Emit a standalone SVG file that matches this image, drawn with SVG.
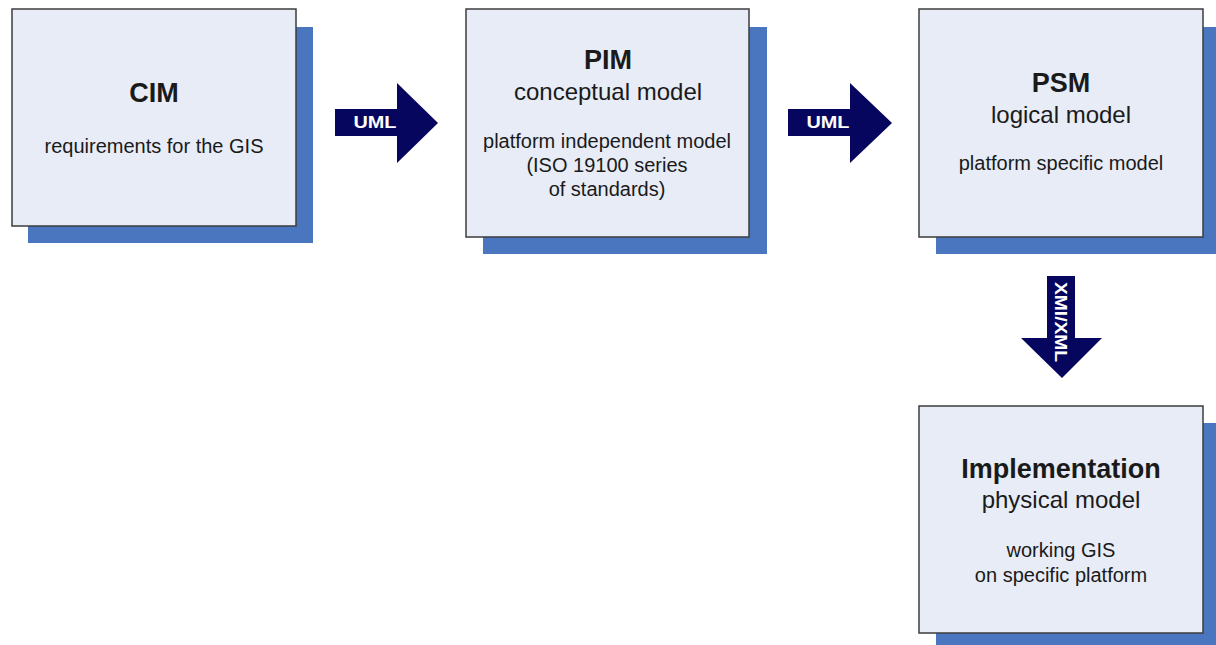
<svg xmlns="http://www.w3.org/2000/svg" width="1216" height="645" viewBox="0 0 1216 645">
<style>
.shadow{fill:#4A76C0}
.box{fill:#E7ECF6;stroke:#3C3C3C;stroke-width:1.5}
.t{font-family:"Liberation Sans",Arial,sans-serif;fill:#1A1A1A;text-anchor:middle}
.b{font-weight:bold;font-size:27px}
.m{font-size:24px}
.s{font-size:20px}
.arrow{fill:#06065E}
.al{font-family:"Liberation Sans",Arial,sans-serif;font-weight:bold;font-size:17px;fill:#FFFFFF;text-anchor:middle}
</style>
<rect width="1216" height="645" fill="#FFFFFF"/>
<g id="cim">
<rect class="shadow" x="28" y="27" width="285" height="216"/>
<rect class="box" x="12" y="9" width="284" height="217"/>
<text class="t b" x="154" y="102">CIM</text>
<text class="t s" x="154" y="153">requirements for the GIS</text>
</g>
<g id="pim">
<rect class="shadow" x="483" y="27" width="284" height="227"/>
<rect class="box" x="466" y="9" width="283" height="228"/>
<text class="t b" x="608" y="69">PIM</text>
<text class="t m" x="608" y="100">conceptual model</text>
<text class="t s" x="607" y="148">platform independent model</text>
<text class="t s" x="607" y="172">(ISO 19100 series</text>
<text class="t s" x="607" y="196">of standards)</text>
</g>
<g id="psm">
<rect class="shadow" x="936" y="27" width="284" height="227"/>
<rect class="box" x="919" y="9" width="284" height="228"/>
<text class="t b" x="1061" y="92">PSM</text>
<text class="t m" x="1061" y="123">logical model</text>
<text class="t s" x="1061" y="170">platform specific model</text>
</g>
<g id="implementation">
<rect class="shadow" x="936" y="423" width="284" height="227"/>
<rect class="box" x="919" y="406" width="284" height="227"/>
<text class="t b" x="1061" y="478">Implementation</text>
<text class="t m" x="1061" y="508">physical model</text>
<text class="t s" x="1061" y="557">working GIS</text>
<text class="t s" x="1061" y="582">on specific platform</text>
</g>
<g id="connectors">
<g id="uml1">
<polygon class="arrow" points="335,109 397,109 397,83 438,123 397,163 397,136 335,136"/>
<text class="al" x="375" y="128" textLength="43" lengthAdjust="spacingAndGlyphs">UML</text>
</g>
<g id="uml2">
<polygon class="arrow" points="788,109 850,109 850,83 892,123 850,163 850,136 788,136"/>
<text class="al" x="828" y="128" textLength="43" lengthAdjust="spacingAndGlyphs">UML</text>
</g>
<g id="xmi">
<polygon class="arrow" points="1047,276 1075,276 1075,338 1102,338 1062,378 1021,338 1047,338"/>
<text class="al" transform="translate(1061,322) rotate(90)" x="0" y="6" textLength="80" lengthAdjust="spacingAndGlyphs">XMI/XML</text>
</g>
</g>
</svg>
